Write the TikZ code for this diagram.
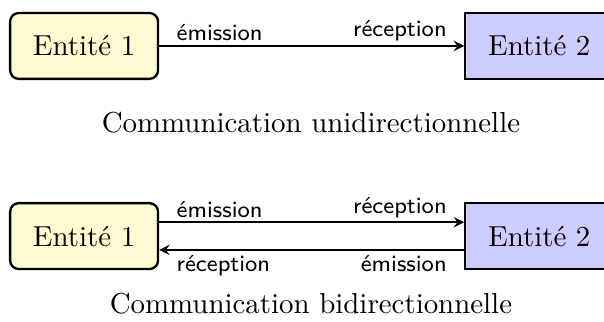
\documentclass[tikz,border=0pt]{standalone}
\usepackage{tikz}
\usetikzlibrary{positioning}
\definecolor{fondjaune}{HTML}{FFFAD2}
\definecolor{fondbleu}{HTML}{CCCCFF}
\begin{document}
\begin{tikzpicture}[entite1/.style={draw,thick,rounded corners=3pt,fill=fondjaune,minimum width=51.2pt,minimum height=22.8pt},
  entite2/.style={draw,thick,fill=fondbleu,minimum width=51.2pt,minimum height=22.8pt},
  fleche/.style={-stealth,semithick},
  etiq/.style={font=\sffamily\footnotesize}]
\useasboundingbox (0,0) rectangle (209pt,-111.4pt);
\node [entite1] (a1) at (29.1pt,-15.9pt) {Entité 1};
\node [entite2,right=105.5pt of a1] (a2) {Entité 2};
\node [anchor=base] (t1) at (107.6pt,-45.7pt) {Communication unidirectionnelle};
\draw [fleche] (a1.east) -- (a2.west)
  node [etiq,pos=0,above right,xshift=2.4pt,yshift=-2pt] {émission}
  node [etiq,pos=1,above left,xshift=-2.4pt,yshift=-2pt] {réception};
\node [entite1] (b1) at (29.1pt,-81.7pt) {Entité 1};
\node [entite2,right=105.5pt of b1] (b2) {Entité 2};
\node [anchor=base] (t2) at (107.6pt,-108.6pt) {Communication bidirectionnelle};
\draw [fleche] ([yshift=4.8pt]b1.east) -- ([yshift=4.8pt]b2.west)
  node [etiq,pos=0,above right,xshift=2.4pt,yshift=-2pt] {émission}
  node [etiq,pos=1,above left,xshift=-2.4pt,yshift=-2pt] {réception};
\draw [fleche] ([yshift=-4.8pt]b2.west) -- ([yshift=-4.8pt]b1.east)
  node [etiq,pos=0,below left,xshift=-2.4pt,yshift=1.8pt] {émission}
  node [etiq,pos=1,below right,xshift=2.4pt,yshift=1.8pt] {réception};
\end{tikzpicture}
\end{document}
